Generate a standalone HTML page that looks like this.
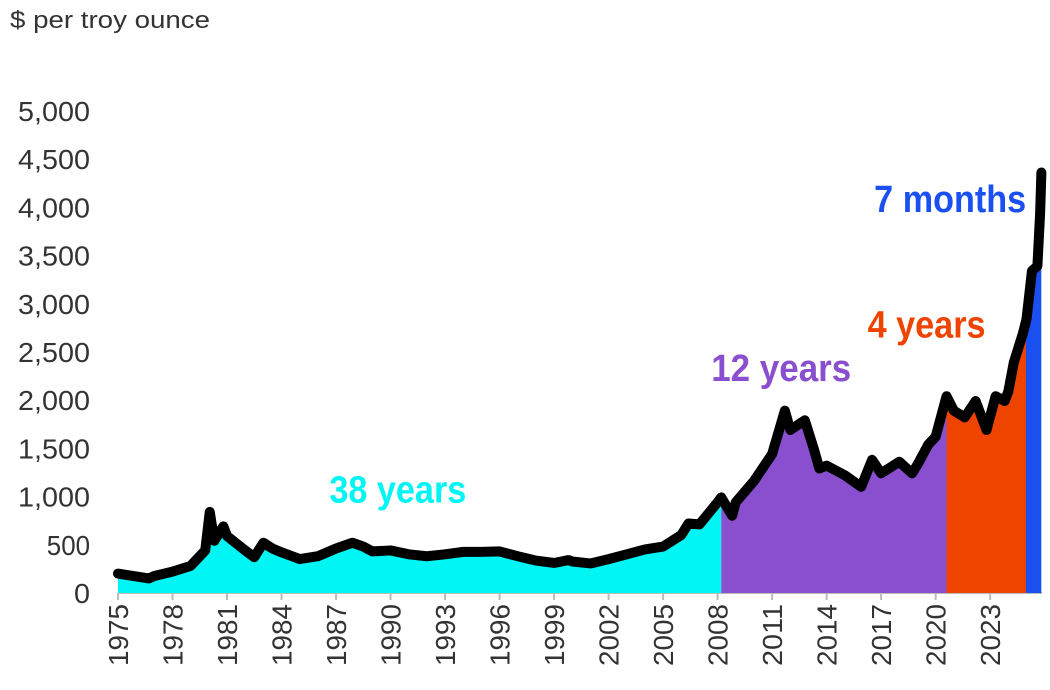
<!DOCTYPE html>
<html><head><meta charset="utf-8"><style>
body{margin:0;background:#fff;width:1050px;height:685px;overflow:hidden}
svg text{font-family:"Liberation Sans",sans-serif}
</style></head><body>
<svg id="chart" width="1050" height="685" xmlns="http://www.w3.org/2000/svg">
<text x="10" y="28" font-size="24" fill="#333" textLength="200" lengthAdjust="spacingAndGlyphs">$ per troy ounce</text>
<g id="yaxis"></g>
<g id="xaxis"></g>
<defs id="defs"></defs>
<g id="areas"></g>
<g id="lines"></g>
<g id="labels"></g>
</svg>
<script>
const years=[1975,1976,1976.7,1977,1978,1979,1979.8,1980.05,1980.3,1980.8,1981,1982,1982.5,1983,1983.5,1984,1985,1986,1987,1987.9,1988.5,1989,1990,1991,1992,1993,1994,1995,1996,1997,1998,1999,1999.8,2000,2001,2002,2003,2004,2005,2006,2006.4,2007,2008,2008.2,2008.8,2009,2010,2011,2011.7,2012,2012.8,2013.3,2013.6,2014,2015,2015.9,2016.5,2017,2018,2018.7,2019,2019.6,2020,2020.6,2021,2021.6,2022.2,2022.8,2023.3,2023.8,2024,2024.3,2024.8,2025.0,2025.3,2025.6,2025.75,2025.82];
const prices=[160,130,110,135,180,240,400,800,500,650,550,400,330,480,420,380,310,340,420,480,440,390,400,360,340,360,385,385,390,340,295,270,300,285,265,310,360,410,440,560,680,670,900,950,760,900,1120,1400,1850,1650,1750,1450,1250,1280,1180,1060,1340,1200,1320,1200,1290,1500,1580,2000,1850,1780,1950,1650,2000,1950,2050,2350,2650,2800,3300,3350,3900,4320];
const eraStarts=[1975,2008.2,2020.6,2024.97];
const eraEnds=[2008.2,2020.6,2024.97,2025.82];
const eraColors=["#00f5f5","#8a4fcf","#ee4400","#1a4ff0"];
const eraLabels=["38 years","12 years","4 years","7 months"];
const labelYears=[1990.4,2011.5,2019.5,2020.8];
const labelValues=[940,2200,2650,3950];
const labelWidths=[137,140,118,152];
const yTicks=[0,500,1000,1500,2000,2500,3000,3500,4000,4500,5000];
const xTicks=[1975,1978,1981,1984,1987,1990,1993,1996,1999,2002,2005,2008,2011,2014,2017,2020,2023];
const NS="http://www.w3.org/2000/svg";
const X=y=>118+(y-1975)*18.17;
const Y=v=>593-v*0.0964;
function mk(t,a,p){const e=document.createElementNS(NS,t);for(const k in a)e.setAttribute(k,a[k]);p.appendChild(e);return e;}
const ya=document.getElementById('yaxis'),xa=document.getElementById('xaxis');
yTicks.forEach(v=>{const s=v.toLocaleString('en-US');const t=mk('text',{x:90,y:Y(v)+10,'text-anchor':'end','font-size':28,fill:'#333',textLength:s.length>1?s.length*14.4:16,lengthAdjust:'spacingAndGlyphs'},ya);


t.textContent=s;});
const ax=mk('line',{x1:118,x2:1042,y1:593,y2:593,stroke:'#bbb','stroke-width':2},xa);


xTicks.forEach(yr=>{const x=X(yr);
const tk=mk('line',{x1:x,x2:x,y1:593,y2:600,stroke:'#bbb','stroke-width':2},xa);


const t=mk('text',{x:0,y:0,'text-anchor':'end','font-size':28,fill:'#333',textLength:62,lengthAdjust:'spacingAndGlyphs',transform:`translate(${x+10},604) rotate(-90)`},xa);


t.textContent=yr;});
const defs=document.getElementById('defs'),ar=document.getElementById('areas');
let d='M'+X(years[0])+','+Y(0);
years.forEach((y,i)=>d+=' L'+X(y)+','+Y(prices[i]));
d+=' L'+X(years[years.length-1])+','+Y(0)+' Z';
eraStarts.forEach((s,i)=>{const cp=mk('clipPath',{id:'c'+i},defs);
mk('rect',{x:X(s),y:0,width:X(eraEnds[i])-X(s),height:600},cp);
const p=mk('path',{d:d,fill:eraColors[i],'clip-path':`url(#c${i})`},ar);

});
let ld='';years.forEach((y,i)=>ld+=(i?' L':'M')+X(y)+','+(Y(prices[i])-4));
const ln=mk('path',{d:ld,fill:'none',stroke:'#000','stroke-width':10,'stroke-linejoin':'round','stroke-linecap':'round'},document.getElementById('lines'));


const lb=document.getElementById('labels');
eraLabels.forEach((s,i)=>{const t=mk('text',{x:X(labelYears[i]),y:Y(labelValues[i]),'text-anchor':'middle','font-size':38,'font-weight':'bold',fill:eraColors[i],textLength:labelWidths[i],lengthAdjust:'spacingAndGlyphs'},lb);


t.textContent=s;});
</script>
</body></html>
